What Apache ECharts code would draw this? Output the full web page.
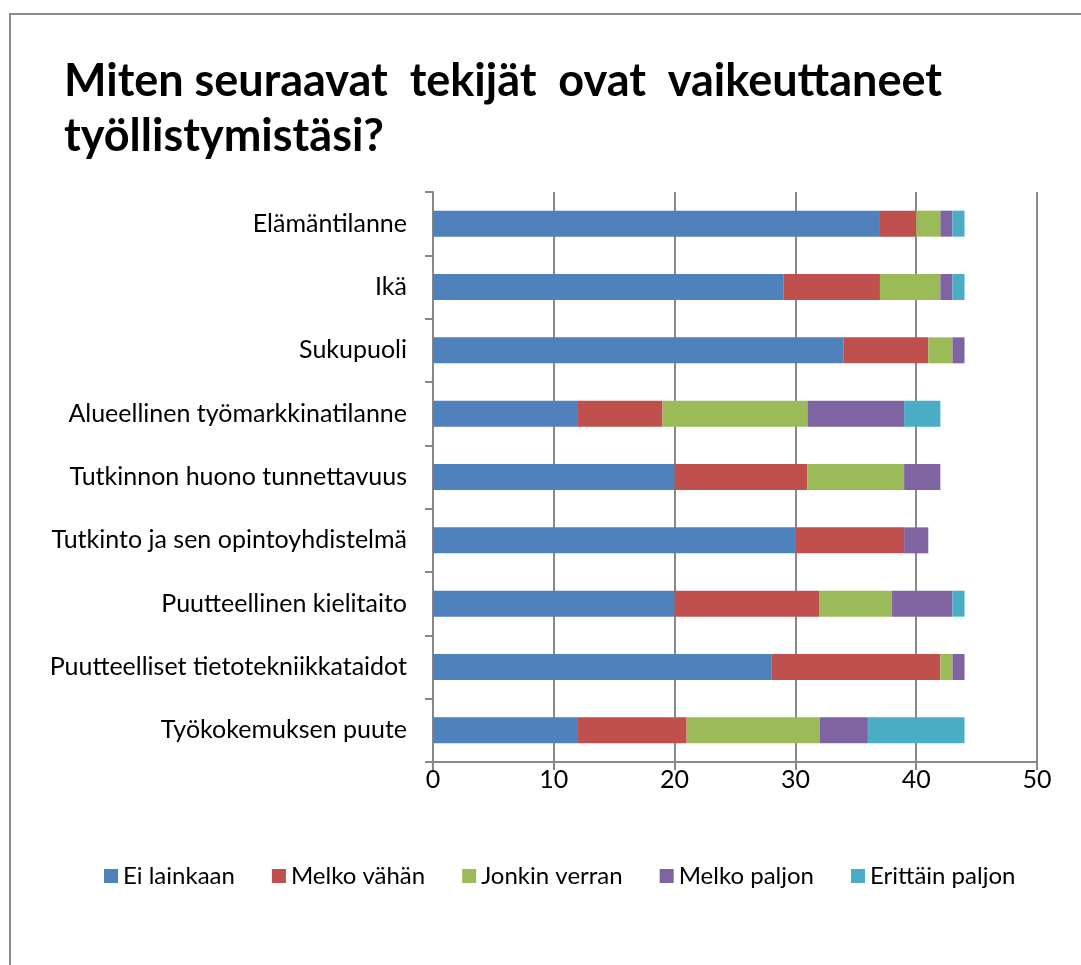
<!DOCTYPE html>
<html><head><meta charset="utf-8">
<script src="https://cdn.jsdelivr.net/npm/echarts@6/dist/echarts.min.js"></script>
<style>html,body{margin:0;padding:0;background:#fff}#c{width:1081px;height:965px}</style>
</head><body><div id="c"></div>
<script>
const categories = ["Elämäntilanne","Ikä","Sukupuoli","Alueellinen työmarkkinatilanne","Tutkinnon huono tunnettavuus","Tutkinto ja sen opintoyhdistelmä","Puutteellinen kielitaito","Puutteelliset tietotekniikkataidot","Työkokemuksen puute"];
const seriesNames = ["Ei lainkaan","Melko vähän","Jonkin verran","Melko paljon","Erittäin paljon"];
const eiLainkaan   = [37,29,34,12,20,30,20,28,12];
const melkoVahan   = [3,8,7,7,11,9,12,14,9];
const jonkinVerran = [2,5,2,12,8,0,6,1,11];
const melkoPaljon  = [1,1,1,8,3,2,5,1,4];
const erittainPaljon = [1,1,0,3,0,0,1,0,8];
const xTicks = [0,10,20,30,40,50];
const colors = ["#4F81BD","#C0504D","#9BBB59","#8064A2","#4BACC6"];
const values = [eiLainkaan, melkoVahan, jonkinVerran, melkoPaljon, erittainPaljon];

const chart = echarts.init(document.getElementById('c'));
const font = 'Lato, "Open Sans", sans-serif';
chart.setOption({
  animation:false,
  textStyle:{fontFamily:font},
  title:{text:'Miten seuraavat  tekijät  ovat  vaikeuttaneet\ntyöllistymistäsi?', left:59, top:49,
    textStyle:{fontFamily:font, fontWeight:'bold', fontSize:45, color:'#000', lineHeight:55}},
  graphic:[{type:'rect', shape:{x:10,y:14,width:1200,height:1100}, style:{fill:'none', stroke:'#8c8c8c', lineWidth:2}, silent:true}],
  legend:{top:859, left:99, itemWidth:14, itemHeight:14, itemGap:37, icon:'rect',
    textStyle:{fontFamily:font, fontSize:24, color:'#000'}, data:seriesNames},
  grid:{left:433, top:192, width:604, height:570, containLabel:false},
  xAxis:{type:'value', min:0, max:50, interval:10,
    axisLine:{show:true, lineStyle:{color:'#888', width:2}},
    axisTick:{show:true, length:8, lineStyle:{color:'#888', width:2}},
    splitLine:{show:true, lineStyle:{color:'#888', width:2}},
    axisLabel:{fontFamily:font, fontSize:25, color:'#000', margin:5,
      formatter:v=> xTicks.includes(v) ? String(v) : ''}},
  yAxis:{type:'category', inverse:true, data:categories,
    axisLine:{show:true, lineStyle:{color:'#888', width:2}},
    axisTick:{show:true, length:8, inside:false, lineStyle:{color:'#888', width:2}},
    axisLabel:{fontFamily:font, fontSize:25, color:'#000', margin:26}},
  series: seriesNames.map((n,i)=>({name:n, type:'bar', stack:'s', data:values[i], barWidth:'41%',
    itemStyle:{color:colors[i]}}))
});
</script></body></html>
